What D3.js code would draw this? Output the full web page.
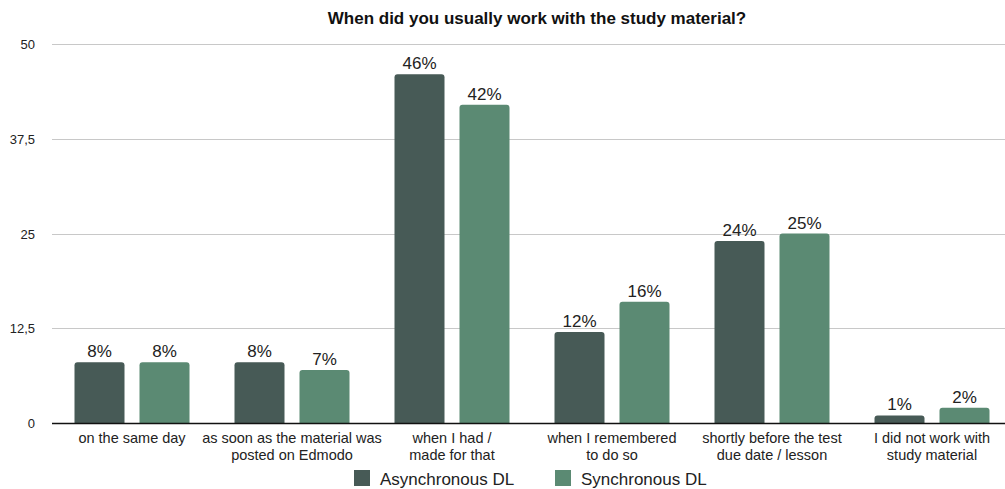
<!DOCTYPE html>
<html>
<head>
<meta charset="utf-8">
<script src="https://cdn.jsdelivr.net/npm/d3@7"></script>
<style>
  body { margin: 0; background: #fff; }
  svg { font-family: "Liberation Sans", Arial, Helvetica, sans-serif; }
</style>
</head>
<body>
<svg id="chart" width="1005" height="489"></svg>
<script>
// data
const categories = [
    ["on the same day"],
    ["as soon as the material was", "posted on Edmodo"],
    ["when I had /", "made for that"],
    ["when I remembered", "to do so"],
    ["shortly before the test", "due date / lesson"],
    ["I did not work with", "study material"]
];
const seriesNames = ["Asynchronous DL", "Synchronous DL"];
const asyncValues = [8, 8, 46, 12, 24, 1];
const syncValues = [8, 7, 42, 16, 25, 2];
const yTicks = [0, 12.5, 25, 37.5, 50];
const colors = ["#475a56", "#5b8a73"];

const svg = d3.select("#chart");
const margin = { left: 52, right: -7, top: 44, bottom: 66 };
const width = 1005, height = 489;

const x0 = d3.scaleBand()
    .domain(d3.range(categories.length))
    .range([margin.left, width - margin.right])
    .padding(0);

const x1 = d3.scaleBand()
    .domain(seriesNames)
    .range([22.5, 137.5])
    .paddingInner(15 / 65);

const y = d3.scaleLinear()
    .domain([0, 50])
    .range([height - margin.bottom, margin.top]);

// grid
svg.append("g")
    .selectAll("line")
    .data(yTicks.filter(d => d > 0))
    .enter().append("line")
    .attr("x1", margin.left)
    .attr("x2", width)
    .attr("y1", d => Math.round(y(d)) + 0.5)
    .attr("y2", d => Math.round(y(d)) + 0.5)
    .attr("stroke", "#c8c8c8")
    .attr("stroke-width", 1);

// y labels
svg.append("g")
    .selectAll("text")
    .data(yTicks)
    .enter().append("text")
    .attr("x", 35)
    .attr("y", d => y(d) + 5)
    .attr("text-anchor", "end")
    .attr("font-size", 13)
    .attr("fill", "#222")
    .text(d => String(d).replace(".", ","));

// bars
const data = categories.map((c, i) => ({
    i: i,
    values: [
        { name: seriesNames[0], v: asyncValues[i], c: colors[0] },
        { name: seriesNames[1], v: syncValues[i], c: colors[1] }
    ]
}));

const groups = svg.append("g")
    .selectAll("g")
    .data(data)
    .enter().append("g")
    .attr("transform", d => "translate(" + x0(d.i) + ",0)");

groups.selectAll("path")
    .data(d => d.values)
    .enter().append("path")
    .attr("fill", d => d.c)
    .attr("d", d => {
        const xl = x1(d.name), w = x1.bandwidth();
        const yt = y(d.v), yb = y(0);
        const r = Math.min(3, (yb - yt) / 2);
        return "M" + xl + "," + yb +
            "V" + (yt + r) +
            "Q" + xl + "," + yt + " " + (xl + r) + "," + yt +
            "H" + (xl + w - r) +
            "Q" + (xl + w) + "," + yt + " " + (xl + w) + "," + (yt + r) +
            "V" + yb + "Z";
    });

groups.selectAll("text")
    .data(d => d.values)
    .enter().append("text")
    .attr("x", d => x1(d.name) + x1.bandwidth() / 2)
    .attr("y", d => y(d.v) - 5)
    .attr("text-anchor", "middle")
    .attr("font-size", 17)
    .attr("fill", "#222")
    .text(d => d.v + "%");

// baseline
svg.append("line")
    .attr("x1", margin.left)
    .attr("x2", width)
    .attr("y1", y(0) + 0.5)
    .attr("y2", y(0) + 0.5)
    .attr("stroke", "#111")
    .attr("stroke-width", 1.5);

// category labels
const catLabels = svg.append("g")
    .selectAll("text")
    .data(categories)
    .enter().append("text")
    .attr("x", (d, i) => x0(i) + x0.bandwidth() / 2)
    .attr("y", 443)
    .attr("text-anchor", "middle")
    .attr("font-size", 14.5)
    .attr("fill", "#222");

catLabels.selectAll("tspan")
    .data(d => d)
    .enter().append("tspan")
    .attr("x", function () { return d3.select(this.parentNode).attr("x"); })
    .attr("dy", (d, i) => i === 0 ? 0 : 17)
    .text(d => d);

// title
svg.append("text")
    .attr("x", 537)
    .attr("y", 24)
    .attr("text-anchor", "middle")
    .attr("font-size", 17)
    .attr("font-weight", "bold")
    .attr("fill", "#111")
    .text("When did you usually work with the study material?");

// legend
const legendX = [354, 555];
const legend = svg.append("g")
    .selectAll("g")
    .data(seriesNames)
    .enter().append("g")
    .attr("transform", (d, i) => "translate(" + legendX[i] + ",470)");

legend.append("rect")
    .attr("width", 16)
    .attr("height", 16)
    .attr("fill", (d, i) => colors[i]);

legend.append("text")
    .attr("x", 26)
    .attr("y", 14.5)
    .attr("font-size", 17)
    .attr("fill", "#222")
    .text(d => d);
</script>
</body>
</html>
